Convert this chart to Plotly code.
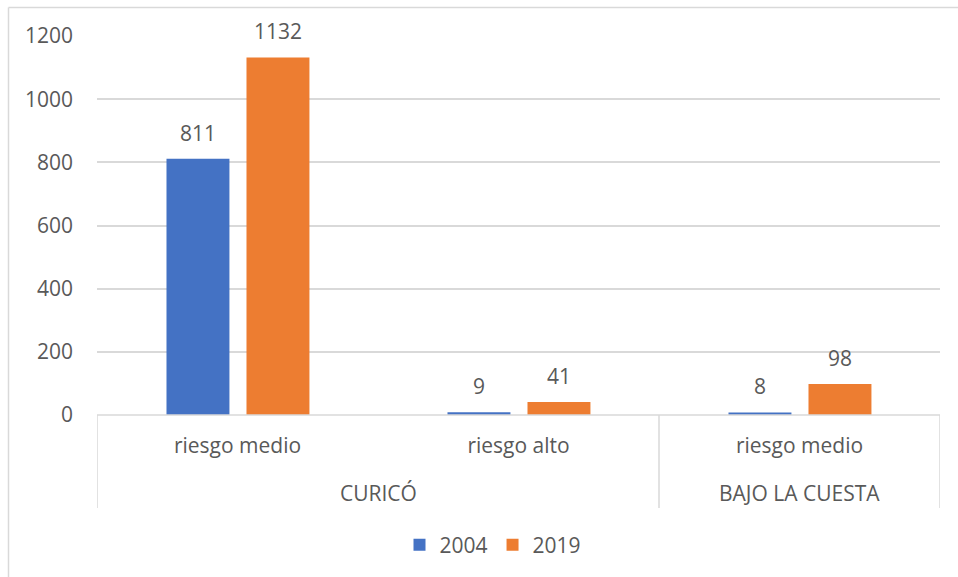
import plotly.graph_objects as go

# Data
groups = ["CURICÓ", "CURICÓ", "BAJO LA CUESTA"]
levels = ["riesgo medio", "riesgo alto", "riesgo medio"]
years = ["2004", "2019"]
values_2004 = [811, 9, 8]
values_2019 = [1132, 41, 98]
y_ticks = [0, 200, 400, 600, 800, 1000, 1200]

W, H = 958, 577
PL, PR, PT, PB = 97, 940, 36, 415  # plot area in pixels

FONT = "Open Sans"
FS = 21
TXT = "#595959"
GRID = "#d9d9d9"
BLUE = "#4472C4"
ORANGE = "#ED7D31"


def px_x(p):
    return (p - PL) / (PR - PL)


def px_y(p):
    return (PB - p) / (PB - PT)


idx = list(range(len(levels)))
bar_w = 0.224
offsets = {"2004": -0.2527, "2019": 0.032}

fig = go.Figure()
for name, vals, col in [(years[0], values_2004, BLUE), (years[1], values_2019, ORANGE)]:
    fig.add_trace(go.Bar(
        x=idx, y=vals, name=name, marker=dict(color=col, line=dict(width=0)),
        width=bar_w, offset=offsets[name],
    ))

annotations = []
# value labels above bars
for name, vals in [(years[0], values_2004), (years[1], values_2019)]:
    for i, v in zip(idx, vals):
        annotations.append(dict(
            x=i + offsets[name] + bar_w / 2, y=v, xref="x", yref="y",
            text=str(v), showarrow=False, yanchor="bottom", yshift=10,
            font=dict(family=FONT, size=FS, color=TXT),
        ))

# outer group labels, centred over their categories
seen = []
for g in groups:
    if g not in seen:
        seen.append(g)
for g in seen:
    members = [i for i, gg in enumerate(groups) if gg == g]
    annotations.append(dict(
        x=sum(members) / len(members), y=px_y(493), xref="x", yref="paper",
        text=g, showarrow=False, yanchor="middle",
        font=dict(family=FONT, size=FS, color=TXT),
    ))

shapes = []
line_style = dict(color=GRID, width=1.5)
# category axis box and dividers
shapes.append(dict(type="line", xref="paper", yref="paper", x0=0, x1=1,
                   y0=0, y1=0, line=line_style, layer="above"))
for bx in [-0.5, 1.5, 2.5]:
    shapes.append(dict(type="line", xref="x", yref="paper", x0=bx, x1=bx,
                       y0=0, y1=px_y(508), line=line_style))
# outer chart frame
shapes.append(dict(type="line", xref="paper", yref="paper",
                   x0=px_x(8.5), x1=px_x(W + 5), y0=px_y(7.5), y1=px_y(7.5),
                   line=dict(color=GRID, width=1.5)))
shapes.append(dict(type="line", xref="paper", yref="paper",
                   x0=px_x(8.5), x1=px_x(8.5), y0=px_y(7.5), y1=px_y(H + 5),
                   line=dict(color=GRID, width=1.5)))

fig.update_layout(
    width=W, height=H,
    margin=dict(l=PL, r=W - PR, t=PT, b=H - PB),
    paper_bgcolor="white", plot_bgcolor="white",
    barmode="group",
    showlegend=True,
    legend=dict(orientation="h", x=px_x(493), xanchor="center", y=px_y(545), yanchor="middle",
                font=dict(family=FONT, size=FS, color=TXT),
                itemwidth=30, tracegroupgap=0),
    xaxis=dict(range=[-0.5, 2.5], tickvals=idx, ticktext=levels,
               showgrid=False, zeroline=False, showline=False, ticks="",
               tickfont=dict(family=FONT, size=FS, color=TXT),
               ticklabelstandoff=16),
    yaxis=dict(range=[0, 1200], tickvals=y_ticks, showgrid=True, gridcolor=GRID,
               gridwidth=1.5, zeroline=False, showline=False, ticks="",
               tickfont=dict(family=FONT, size=FS, color=TXT),
               ticklabelstandoff=23),
    annotations=annotations,
    shapes=shapes,
)

fig.write_html("out.html")
